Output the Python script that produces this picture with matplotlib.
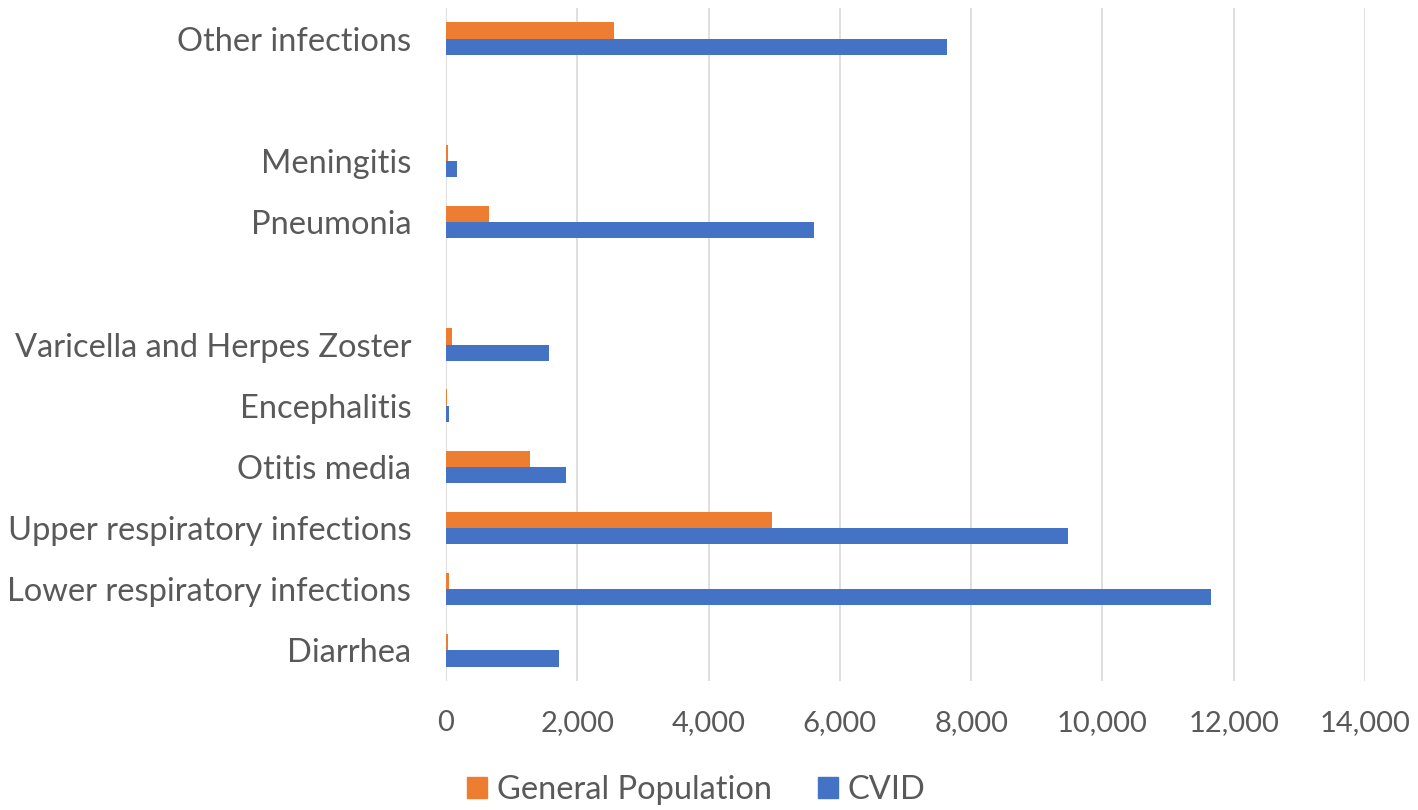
import matplotlib
matplotlib.use("Agg")
import matplotlib.pyplot as plt
from matplotlib.patches import Patch
import numpy as np

# Data (bottom to top); blank strings are spacer rows
categories = ["Diarrhea", "Lower respiratory infections", "Upper respiratory infections",
              "Otitis media", "Encephalitis", "Varicella and Herpes Zoster", "",
              "Pneumonia", "Meningitis", "", "Other infections"]
general_population = [27, 41, 4964, 1280, 18, 91, 0, 655, 25, 0, 2560]
cvid = [1727, 11660, 9478, 1828, 46, 1564, 0, 5600, 163, 0, 7630]
series_names = ["General Population", "CVID"]
xticks = [0, 2000, 4000, 6000, 8000, 10000, 12000, 14000]

ORANGE = "#ED7D31"
BLUE = "#4472C4"
TEXT = "#595959"
GRID = "#D9D9D9"
FONT = "Lato"
FS_CAT = 23.5
FS_TICK = 21
FS_LEG = 23.5

plt.rcParams["font.family"] = [FONT, "DejaVu Sans"]

fig = plt.figure(figsize=(14.18, 8.10), dpi=100)
ax = fig.add_axes([446/1418, 1 - 681/810, (1365-446)/1418, (681-8)/810])

y = np.arange(len(categories))
h = 0.265
ax.barh(y + h/2, general_population, height=h, color=ORANGE, label=series_names[0], zorder=3)
ax.barh(y - h/2, cvid, height=h, color=BLUE, label=series_names[1], zorder=3)

ax.set_ylim(-0.5, len(categories) - 0.5)
ax.set_xlim(0, 14000)
ax.set_yticks(y)
ax.set_yticklabels(categories)
ax.set_xticks(xticks)
ax.set_xticklabels([f"{v:,}" for v in xticks])
ax.tick_params(axis="y", length=0, pad=25, labelsize=FS_CAT, labelcolor=TEXT)
ax.tick_params(axis="x", length=0, pad=21, labelsize=FS_TICK, labelcolor=TEXT)
ax.grid(axis="x", color=GRID, linewidth=1.2, zorder=0)
for s in ax.spines.values():
    s.set_visible(False)

handles = [Patch(color=ORANGE), Patch(color=BLUE)]
fig.legend(handles, series_names, loc="lower center", bbox_to_anchor=(0.491, -0.03),
           ncol=2, frameon=False, fontsize=FS_LEG, labelcolor=TEXT,
           handlelength=0.62, handleheight=0.62, handletextpad=0.3, columnspacing=1.4)

fig.savefig("out.png", dpi=100)
